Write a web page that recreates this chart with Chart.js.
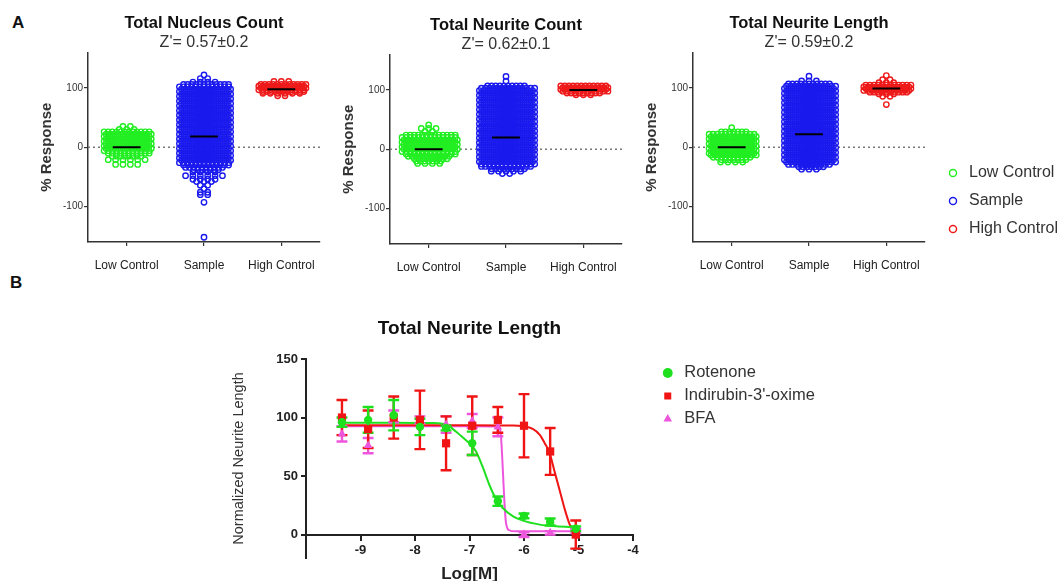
<!DOCTYPE html>
<html>
<head>
<meta charset="utf-8">
<script src="https://cdn.jsdelivr.net/npm/chart.js@4.4.1/dist/chart.umd.min.js"></script>
<style>
  html, body { margin: 0; padding: 0; background: #fff; }
  body { position: relative; width: 1063px; height: 581px; overflow: hidden; font-family: 'Liberation Sans', Arial, sans-serif; }
  canvas { position: absolute; }
  .panel-tag { position: absolute; font-weight: bold; font-size: 17px; color: #111; line-height: 20px; }
</style>
</head>
<body>
<div class="panel-tag" style="left:12px; top:13px;">A</div>
<div class="panel-tag" style="left:10px; top:273px;">B</div>
<canvas id="nucleusChart" width="332" height="285" style="left:0; top:0;"></canvas>
<canvas id="countChart" width="332" height="285" style="left:302px; top:2px;"></canvas>
<canvas id="lengthChart" width="468" height="285" style="left:605px; top:0;"></canvas>
<canvas id="doseChart" width="672" height="281" style="left:220px; top:300px;"></canvas>
<script>
// ---- panel A: % response per well, rows of [value, number of wells at that level]
const groupNames = ['Low Control', 'Sample', 'High Control'];
const groupColors = ['#22ee22', '#1a1aee', '#ee1a1a'];
const responseTicks = [-100, 0, 100];

const nucleusLowRows = [[35,2],[30,3],[26,12],[22,12],[18,12],[14,12],[10,12],[6,12],[2,12],[-2,12],[-6,12],[-10,11],[-15,8],[-21,6],[-29,4]];
const nucleusSampleRows = [[122,1],[116,2],[110,4],[106,12],[102,13],[98,13],[94,13],[90,13],[86,13],[82,13],[78,13],[74,13],[70,13],[66,13],[62,13],[58,13],[54,13],[50,13],[46,13],[42,13],[38,13],[34,13],[30,13],[26,13],[22,13],[18,13],[14,13],[10,13],[6,13],[2,13],[-2,13],[-6,13],[-10,13],[-14,13],[-18,13],[-22,13],[-26,13],[-30,12],[-34,10],[-38,7],[-42,4],[-48,6],[-54,4],[-58,3],[-64,2],[-70,1],[-76,2],[-80,2],[-93,1],[-152,1]];
const nucleusHighRows = [[111,3],[106,12],[103,12],[100,12],[97,12],[94,11],[91,6],[87,2]];
const nucleusMedians = [0, 18, 98];

const countLowRows = [[41,1],[35,3],[30,2],[24,13],[20,14],[16,14],[12,14],[8,14],[4,14],[0,14],[-4,14],[-8,13],[-12,11],[-16,9],[-20,7],[-24,4]];
const countSampleRows = [[123,1],[115,1],[107,10],[103,14],[99,14],[95,14],[91,14],[87,14],[83,14],[79,14],[75,14],[71,14],[67,14],[63,14],[59,14],[55,14],[51,14],[47,14],[43,14],[39,14],[35,14],[31,14],[27,14],[23,14],[19,14],[15,14],[11,14],[7,14],[3,14],[-1,14],[-5,14],[-9,14],[-13,14],[-17,14],[-21,14],[-25,14],[-29,13],[-33,9],[-37,5],[-41,2]];
const countHighRows = [[107,12],[104,12],[101,12],[98,12],[95,9],[92,3]];
const countMedians = [0, 20, 100];

const lengthLowRows = [[33,1],[26,7],[22,12],[18,12],[14,12],[10,12],[6,12],[2,12],[-2,12],[-6,12],[-10,12],[-13,12],[-17,10],[-21,7],[-25,4]];
const lengthSampleRows = [[120,1],[112,3],[107,11],[103,13],[99,13],[95,13],[91,13],[87,13],[83,13],[79,13],[75,13],[71,13],[67,13],[63,13],[59,13],[55,13],[51,13],[47,13],[43,13],[39,13],[35,13],[31,13],[27,13],[23,13],[19,13],[15,13],[11,13],[7,13],[3,13],[-1,13],[-5,13],[-9,13],[-13,13],[-17,13],[-21,13],[-25,13],[-29,11],[-33,7],[-37,3]];
const lengthHighRows = [[121,1],[114,2],[109,3],[105,12],[102,12],[99,12],[96,12],[93,10],[90,3],[86,2],[72,1]];
const lengthMedians = [0, 22, 99];

// ---- panel B: dose response, mean and error per concentration
const compounds = ['Rotenone', "Indirubin-3'-oxime", 'BFA'];
const compoundColors = ['#1ee01e', '#f01414', '#ee55dd'];
const logConc = [-9.34, -8.86, -8.39, -7.91, -7.43, -6.95, -6.48, -6.00, -5.52, -5.05];
const rotenoneMean = [96, 98, 102, 92, 91, 78, 28.5, 16, 10.8, 5];
const rotenoneErr = [4, 11, 13, 7, 2, 10, 4, 2, 3, 2];
const indirubinMean = [100, 90, 100, 98, 78, 93, 98, 93, 71, 0];
const indirubinErr = [15, 16, 18, 25, 23, 25, 11, 27, 20, 12];
const bfaMean = [86, 76, 101, 98, 94, 97, 92, 0, 1.5, 3];
const bfaErr = [6.5, 6.5, 5, 3, 7, 6, 8, 2, 1.5, 2];

// fitted curves
const rotenoneFitX = [-9.34, -8.5, -7.7, -7.5, -7.4, -7.25, -7.1, -6.98, -6.88, -6.76, -6.64, -6.51, -6.39, -6.2, -6.02, -5.71, -5.41, -5.05];
const rotenoneFitY = [95.5, 95.5, 95.3, 94.8, 93.5, 88, 82, 77, 71, 58, 43, 30, 22.7, 15.6, 11.9, 8.5, 7.1, 6.2];
const indirubinFitX = [-9.34, -7.0, -6.2, -6.02, -5.84, -5.71, -5.62, -5.53, -5.44, -5.34, -5.25, -5.16, -5.07, -5.05];
const indirubinFitY = [93.5, 93.5, 93.2, 92.5, 90.3, 85.2, 78.1, 69.6, 54, 36.9, 21.3, 8.5, 1.4, 0.8];
const bfaFitX = [-9.34, -7.0, -6.5, -6.45, -6.42, -6.39, -6.36, -6.33, -6.27, -6.17, -5.5, -5.05];
const bfaFitY = [92.5, 92.5, 92.3, 91, 82.4, 56.8, 28.4, 9.9, 3.7, 2.8, 2.8, 2.8];

const doseTicks = [-9, -8, -7, -6, -5, -4];
const doseYTicks = [0, 50, 100, 150];

const baseFamily = "'Liberation Sans', Arial, sans-serif";
Chart.defaults.font.family = baseFamily;
Chart.defaults.color = '#222';

const DOT_STEP = 0.053;

function fixTicks(values) {
    return scale => { scale.ticks = values.map(v => ({ value: v })); };
}

// width a right-hand legend will take, so it can be parked at a set spot
function legendWidth(labels, fontSize, padding) {
    const ctx = document.createElement('canvas').getContext('2d');
    ctx.font = fontSize + 'px ' + baseFamily;
    const textW = Math.max(...labels.map(t => ctx.measureText(t).width));
    return padding + fontSize + fontSize / 2 + textW + 10;
}

// lay each level of wells out side by side around the category centre,
// every other level shifted half a step, sparse levels spread wider
function swarm(rows, cat) {
    const pts = [];
    rows.forEach(([v, n], r) => {
        const step = n <= 6 ? DOT_STEP * 1.8 : DOT_STEP;
        const shift = (n > 6 && r % 2) ? DOT_STEP / 2 : 0;
        for (let j = 0; j < n; j++) pts.push({ x: cat + (j - (n - 1) / 2) * step + shift, y: v });
    });
    return pts;
}

function medianSegments(medians) {
    const pts = [];
    medians.forEach((m, i) => {
        pts.push({ x: i - 0.18, y: m }, { x: i + 0.18, y: m }, { x: i + 0.18, y: null });
    });
    return pts;
}

function drawPanel(id, title, zText, rows, medians, withLegend) {
    const canvas = document.getElementById(id);
    const datasets = [{
        type: 'line', data: medianSegments(medians), borderColor: '#000', borderWidth: 2,
        pointRadius: 0, showLine: true, spanGaps: false
    }];
    groupNames.forEach((name, i) => {
        datasets.push({
            label: name, group: true, data: swarm(rows[i], i),
            pointBorderColor: groupColors[i], borderColor: groupColors[i],
            pointBackgroundColor: 'rgba(255,255,255,0)', backgroundColor: 'rgba(255,255,255,0)',
            pointRadius: 2.7, pointBorderWidth: 1.4
        });
    });
    datasets.push({
        type: 'line', data: [{ x: -0.5, y: 0 }, { x: 2.5, y: 0 }], borderColor: '#777',
        borderWidth: 1.3, borderDash: [2, 3], pointRadius: 0, showLine: true
    });

    const scales = {
        x: {
            type: 'linear', min: -0.5, max: 2.5,
            afterBuildTicks: fixTicks([0, 1, 2]),
            afterFit: s => { s.height = 43; },
            ticks: { callback: v => groupNames[v], autoSkip: false, maxRotation: 0, padding: 12, color: '#222', font: { size: 12 } },
            grid: { drawOnChartArea: false, tickLength: 4, color: '#333', lineWidth: 1.2 },
            border: { color: '#333', width: 1.5 }
        },
        y: {
            type: 'linear', min: -160, max: 160,
            afterBuildTicks: fixTicks(responseTicks),
            afterFit: s => { s.width = 53.4; },
            ticks: { padding: 1, color: '#333', font: { size: 10 } },
            grid: { drawOnChartArea: false, tickLength: 4, color: '#333', lineWidth: 1.2 },
            border: { color: '#333', width: 1.5 },
            title: { display: true, text: '% Response', color: '#333', font: { size: 15, weight: 'bold' }, padding: { top: 3.5, bottom: 0 } }
        }
    };

    let padRight = 12;
    if (withLegend) {
        // chart area ends at 925, legend starts at 933 (page coords)
        const left = parseFloat(canvas.style.left);
        padRight = left + canvas.width - 933 - legendWidth(groupNames, 16, 12);
        scales.gap = {
            type: 'linear', position: 'right', display: true,
            afterFit: s => { s.width = 8; },
            ticks: { display: false }, grid: { display: false }, border: { display: false }
        };
    }

    return new Chart(canvas, {
        type: 'scatter',
        data: { datasets },
        options: {
            responsive: false, animation: false, events: [],
            layout: { padding: { left: 34.6, right: padRight, top: 0, bottom: 0 } },
            scales,
            plugins: {
                tooltip: { enabled: false },
                title: {
                    display: true, text: title, fullSize: false, color: '#111',
                    font: { size: 16.5, weight: 'bold', lineHeight: 1.2 },
                    padding: { top: 13.1, bottom: 0 }
                },
                subtitle: {
                    display: true, text: zText, fullSize: false, color: '#333',
                    font: { size: 16, lineHeight: 1.1 },
                    padding: { top: 1, bottom: 1 }
                },
                legend: {
                    display: withLegend, position: 'right', align: 'start', maxWidth: 400,
                    title: { display: true, text: ' ', font: { size: 10, lineHeight: 1.2 }, padding: { top: 141, bottom: 0 } },
                    labels: {
                        usePointStyle: true, boxWidth: 16, boxHeight: 5, padding: 12,
                        color: '#333', font: { size: 16 },
                        filter: (item, data) => data.datasets[item.datasetIndex].group === true
                    }
                }
            }
        }
    });
}

drawPanel('nucleusChart', 'Total Nucleus Count', "Z'= 0.57\u00b10.2",
    [nucleusLowRows, nucleusSampleRows, nucleusHighRows], nucleusMedians, false);
drawPanel('countChart', 'Total Neurite Count', "Z'= 0.62\u00b10.1",
    [countLowRows, countSampleRows, countHighRows], countMedians, false);
drawPanel('lengthChart', 'Total Neurite Length', "Z'= 0.59\u00b10.2",
    [lengthLowRows, lengthSampleRows, lengthHighRows], lengthMedians, true);

// ---- panel B
function errorBars(xs, means, errs) {
    const cap = 0.1;
    const pts = [];
    xs.forEach((x, i) => {
        const lo = means[i] - errs[i];
        const hi = means[i] + errs[i];
        pts.push({ x, y: lo }, { x, y: hi }, { x, y: null });
        pts.push({ x: x - cap, y: hi }, { x: x + cap, y: hi }, { x: x + cap, y: null });
        pts.push({ x: x - cap, y: lo }, { x: x + cap, y: lo }, { x: x + cap, y: null });
    });
    return pts;
}

const doseMeans = [rotenoneMean, indirubinMean, bfaMean];
const doseErrs = [rotenoneErr, indirubinErr, bfaErr];
const fitXs = [rotenoneFitX, indirubinFitX, bfaFitX];
const fitYs = [rotenoneFitY, indirubinFitY, bfaFitY];
const markerStyles = ['circle', 'rect', 'triangle'];
const markerRadii = [4.2, 5.8, 5];

const doseDatasets = [];
compounds.forEach((name, c) => {
    doseDatasets.push({
        label: name, compound: true,
        data: logConc.map((x, i) => ({ x, y: doseMeans[c][i] })),
        pointStyle: markerStyles[c], pointRadius: markerRadii[c], pointBorderWidth: 0,
        pointBackgroundColor: compoundColors[c], pointBorderColor: compoundColors[c],
        backgroundColor: compoundColors[c], borderColor: compoundColors[c]
    });
});
compounds.forEach((name, c) => {
    doseDatasets.push({
        type: 'line', data: errorBars(logConc, doseMeans[c], doseErrs[c]),
        borderColor: compoundColors[c], borderWidth: 2.4, pointRadius: 0, showLine: true, spanGaps: false
    });
});
compounds.forEach((name, c) => {
    doseDatasets.push({
        type: 'line', data: fitXs[c].map((x, i) => ({ x, y: fitYs[c][i] })),
        borderColor: compoundColors[c], borderWidth: 2, pointRadius: 0, showLine: true,
        cubicInterpolationMode: 'monotone'
    });
});

const doseCanvas = document.getElementById('doseChart');
// chart area ends at 633, legend starts at 653 (page coords)
const dosePadRight = 220 + doseCanvas.width - 653 - legendWidth(compounds, 16.5, 6.5);

new Chart(doseCanvas, {
    type: 'scatter',
    data: { datasets: doseDatasets },
    options: {
        responsive: false, animation: false, events: [],
        layout: { padding: { left: 6, right: dosePadRight, top: 0, bottom: 23 } },
        scales: {
            x: {
                type: 'linear', min: -10, max: -4, position: { y: 0 },
                afterBuildTicks: fixTicks(doseTicks),
                ticks: { padding: 3, color: '#222', font: { size: 13, weight: 'bold' } },
                grid: { drawOnChartArea: false, tickLength: 5, color: '#222', lineWidth: 2 },
                border: { color: '#222', width: 2 },
                title: { display: true, text: 'Log[M]', color: '#222', font: { size: 17, weight: 'bold' }, padding: { top: 3, bottom: 0 } }
            },
            y: {
                type: 'linear', min: -20, max: 150,
                afterBuildTicks: fixTicks(doseYTicks),
                afterFit: s => { s.width = 80; },
                ticks: { padding: 3, color: '#222', font: { size: 13, weight: 'bold' } },
                grid: { drawOnChartArea: false, tickLength: 5, color: '#222', lineWidth: 2 },
                border: { color: '#222', width: 2 },
                title: { display: true, text: 'Normalized Neurite Length', color: '#333', font: { size: 14.5 }, padding: { top: 4, bottom: 4 } }
            },
            gap: {
                type: 'linear', position: 'right', display: true,
                afterFit: s => { s.width = 20; },
                ticks: { display: false }, grid: { display: false }, border: { display: false }
            }
        },
        plugins: {
            tooltip: { enabled: false },
            title: {
                display: true, text: 'Total Neurite Length', fullSize: false, color: '#111',
                font: { size: 19, weight: 'bold', lineHeight: 1.2 },
                padding: { top: 17.6, bottom: 18.6 }
            },
            legend: {
                position: 'right', align: 'start', maxWidth: 400,
                title: { display: true, text: ' ', font: { size: 10, lineHeight: 1.2 }, padding: { top: 46.2, bottom: 0 } },
                labels: {
                    usePointStyle: true, boxWidth: 16.5, boxHeight: 7, padding: 6.5,
                    color: '#333', font: { size: 16.5 },
                    filter: (item, data) => data.datasets[item.datasetIndex].compound === true
                }
            }
        }
    }
});
</script>
</body>
</html>
